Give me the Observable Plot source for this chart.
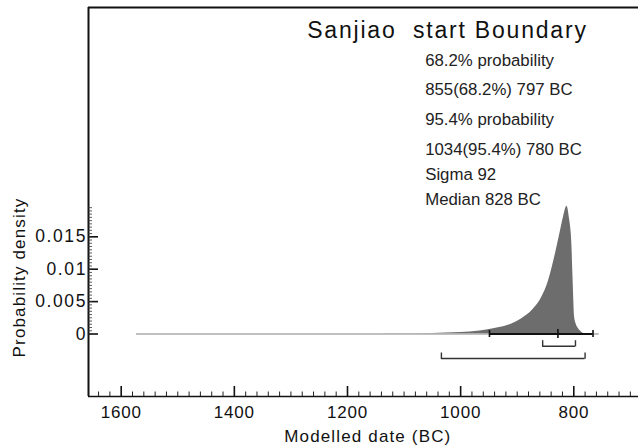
<!DOCTYPE html>
<html>
<head>
<meta charset="utf-8">
<script src="https://cdn.jsdelivr.net/npm/d3@7"></script>
<script src="https://cdn.jsdelivr.net/npm/@observablehq/plot@0.6"></script>
<style>
  html, body { margin: 0; padding: 0; background: #fff; }
  #chart { width: 638px; height: 447px; }
</style>
</head>
<body>
<div id="chart"></div>
<script>
// ---- Data ----
const years   = [1150, 1100, 1050, 1000, 966, 942, 916, 892, 872, 857, 845, 837, 830, 824, 818, 812, 810, 808, 806, 804.5, 803, 802, 801, 800, 798.5, 796, 793.5, 790, 786.5, 782];
const density = [0, 0.00003, 0.00009, 0.00022, 0.00046, 0.00083, 0.00134, 0.00237, 0.0038, 0.0056, 0.0081, 0.0107, 0.0133, 0.0157, 0.0181, 0.0197, 0.0192, 0.018, 0.0168, 0.0155, 0.013, 0.0103, 0.0078, 0.0052, 0.0026, 0.0016, 0.00108, 0.0006, 0.0003, 0];
const priorRange  = [1573, 755];
const sigmaRange  = [949, 766];
const medianYear  = 828;
const range68     = [855, 797];
const range95     = [1034, 780];
const xTickLabels = [1600, 1400, 1200, 1000, 800];
const yTickLabels = [0, 0.005, 0.01, 0.015];
const yTickText   = ["0", "0.005", "0.01", "0.015"];
const titleText   = "Sanjiao  start Boundary";
const infoLines   = ["68.2% probability", "855(68.2%) 797 BC", "95.4% probability", "1034(95.4%) 780 BC", "Sigma 92", "Median 828 BC"];
const xLabel = "Modelled date (BC)";
const yLabel = "Probability density";

// ---- Layout / style ----
const W = 638, H = 447, mL = 88, mR = 0, mT = 7, mB = 51;
const frameW = W - mL - mR, frameH = H - mT - mB;
const xDomain = [1657.8, 685.6];
const yDomain = [-0.009645, 0.05039];
const font = "'Liberation Sans', Arial, Helvetica, sans-serif";
const infoBaselines = [58, 87, 117, 147, 172.3, 197];

const dist = years.map((y, i) => ({year: y, p: density[i]}));
const xMinor = d3.range(700, 1660, 20).filter(v => v >= xDomain[1] && v <= xDomain[0] && v % 200 !== 0);
const yMinor = d3.range(0, 40).map(i => i * 0.0005).filter(v => v <= 0.0196);

const textBase = {fontFamily: font, fill: "#111"};

const plot = Plot.plot({
  width: W, height: H,
  marginLeft: mL, marginRight: mR, marginTop: mT, marginBottom: mB,
  x: {domain: xDomain, axis: null},
  y: {domain: yDomain, axis: null},
  style: {background: "#fff", fontFamily: font, overflow: "visible"},
  marks: [
    // distribution
    Plot.areaY(dist, {x: "year", y: "p", fill: "#6d6d6d", curve: "monotone-x"}),
    Plot.ruleY([0], {x1: priorRange[0], x2: priorRange[1], stroke: "#adadad", strokeWidth: 1.5}),
    // sigma bar + median
    Plot.ruleY([0], {x1: sigmaRange[0], x2: sigmaRange[1], stroke: "#111", strokeWidth: 2.2}),
    Plot.ruleX(sigmaRange, {x: d => d, y1: 0, y2: 0, insetTop: -3.5, insetBottom: -3.5, stroke: "#111", strokeWidth: 1.6}),
    Plot.ruleX([medianYear], {x: d => d, y1: 0, y2: 0, insetTop: -4.5, insetBottom: -4.5, stroke: "#111", strokeWidth: 1.6}),
    // 68.2% bracket
    Plot.ruleY([0], {x1: range68[0], x2: range68[1], dy: 12.2, stroke: "#333", strokeWidth: 1.4}),
    Plot.ruleX(range68, {x: d => d, y1: 0, y2: 0, dy: 12.2, insetTop: -5.5, insetBottom: -0.7, stroke: "#333", strokeWidth: 1.4}),
    // 95.4% bracket
    Plot.ruleY([0], {x1: range95[0], x2: range95[1], dy: 24.5, stroke: "#333", strokeWidth: 1.4}),
    Plot.ruleX(range95, {x: d => d, y1: 0, y2: 0, dy: 24.5, insetTop: -5.5, insetBottom: -0.7, stroke: "#333", strokeWidth: 1.4}),
    // frame lines
    Plot.ruleX([xDomain[0]], {stroke: "#111", strokeWidth: 2}),
    Plot.ruleY([yDomain[1]], {stroke: "#111", strokeWidth: 2}),
    Plot.ruleY([yDomain[0]], {stroke: "#111", strokeWidth: 1.6}),
    // x ticks
    Plot.ruleX(xTickLabels, {insetTop: frameH - 10, stroke: "#111", strokeWidth: 1.6}),
    Plot.ruleX(xMinor, {insetTop: frameH - 4.5, stroke: "#222", strokeWidth: 1}),
    // y ticks
    Plot.ruleY(yTickLabels, {insetRight: frameW - 10, stroke: "#111", strokeWidth: 1.6}),
    Plot.ruleY(yMinor, {insetRight: frameW - 4, stroke: "#333", strokeWidth: 0.8}),
    // tick labels
    Plot.text(xTickLabels, {x: d => d, text: d => String(d), frameAnchor: "bottom", textAnchor: "middle", lineAnchor: "bottom", dy: 21.3, fontSize: 17, ...textBase}),
    Plot.text(yTickLabels, {y: d => d, text: (d, i) => yTickText[i], frameAnchor: "left", textAnchor: "end", dx: -1.5, fontSize: 17.5, ...textBase}),
    // axis titles
    Plot.text([xLabel], {frameAnchor: "bottom", textAnchor: "middle", lineAnchor: "bottom", dx: 4.3, dy: 45, fontSize: 17, ...textBase}),
    Plot.text([yLabel], {frameAnchor: "left", textAnchor: "middle", lineAnchor: "bottom", rotate: -90, dx: -64, dy: 75.5, fontSize: 17, ...textBase}),
    // title
    Plot.text([titleText], {frameAnchor: "top-left", textAnchor: "start", lineAnchor: "bottom", dx: 218.7, dy: 30.3, fontSize: 23, ...textBase}),
    // info lines
    ...infoLines.map((t, i) => Plot.text([t], {frameAnchor: "top-left", textAnchor: "start", lineAnchor: "bottom", dx: 336.7, dy: infoBaselines[i], fontSize: 16.8, fontFamily: font, fill: "#222"}))
  ]
});

// letter spacing tweaks to match the reference's wider type
const svg = d3.select(plot);
svg.selectAll("text").each(function() {
  const t = this.textContent;
  if (t === titleText) this.setAttribute("letter-spacing", "1.8");
  else if (t === xLabel || t === yLabel) this.setAttribute("letter-spacing", "1.15");
  else if (yTickText.includes(t)) this.setAttribute("letter-spacing", "1.6");
  else if (xTickLabels.map(String).includes(t)) this.setAttribute("letter-spacing", "0.8");
});
document.getElementById("chart").appendChild(plot);
</script>
</body>
</html>
